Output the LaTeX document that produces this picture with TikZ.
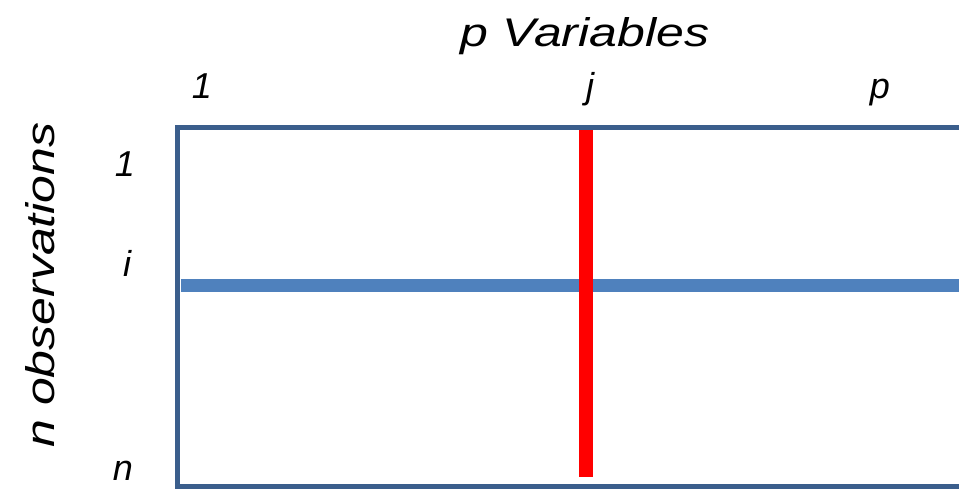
\documentclass[tikz,border=0pt]{standalone}
\usepackage{fontspec}
\setmainfont{Liberation Sans}
\definecolor{frameblue}{HTML}{3B5E8C}
\definecolor{rowblue}{HTML}{4F81BD}
\definecolor{colred}{HTML}{FF0000}
\begin{document}
\begin{tikzpicture}[x=1pt,y=1pt,
  lbl/.style={anchor=base,inner sep=0pt,font=\fontsize{36}{40}\selectfont\itshape},
  ttl/.style={anchor=base,inner sep=0pt,font=\fontsize{40}{44}\selectfont\itshape},
  frame/.style={draw=frameblue,line width=5pt},
  rowline/.style={draw=rowblue,line width=13pt},
  colline/.style={draw=colred,line width=14pt}]
\useasboundingbox (0,0) rectangle (959,489);
\clip (0,0) rectangle (959,489);
% matrix frame (right side beyond picture)
\draw[frame] (980,361.5) -- (177.5,361.5) -- (177.5,2.5) -- (980,2.5);
% highlighted row i and column j
\coordinate (rowL) at (181,203);
\coordinate (rowR) at (980,203);
\draw[rowline] (rowL) -- (rowR);
\coordinate (colT) at (586,359);
\coordinate (colB) at (586,12);
\draw[colline] (colT) -- (colB);
% titles
\node[ttl] (title) at (585,442) {\scalebox{1.25}[1]{p Variables}};
\node[ttl,rotate=90] (side) at (54,204) {\scalebox{1.25}[1]{n observations}};
% column labels
\node[lbl] (c1) at (202,390) {1};
\node[lbl] (cj) at (590,390) {j};
\node[lbl] (cp) at (880,390) {p};
% row labels
\node[lbl] (r1) at (125,312) {1};
\node[lbl] (ri) at (127,212) {i};
\node[lbl] (rn) at (123,8) {n};
\end{tikzpicture}
\end{document}
